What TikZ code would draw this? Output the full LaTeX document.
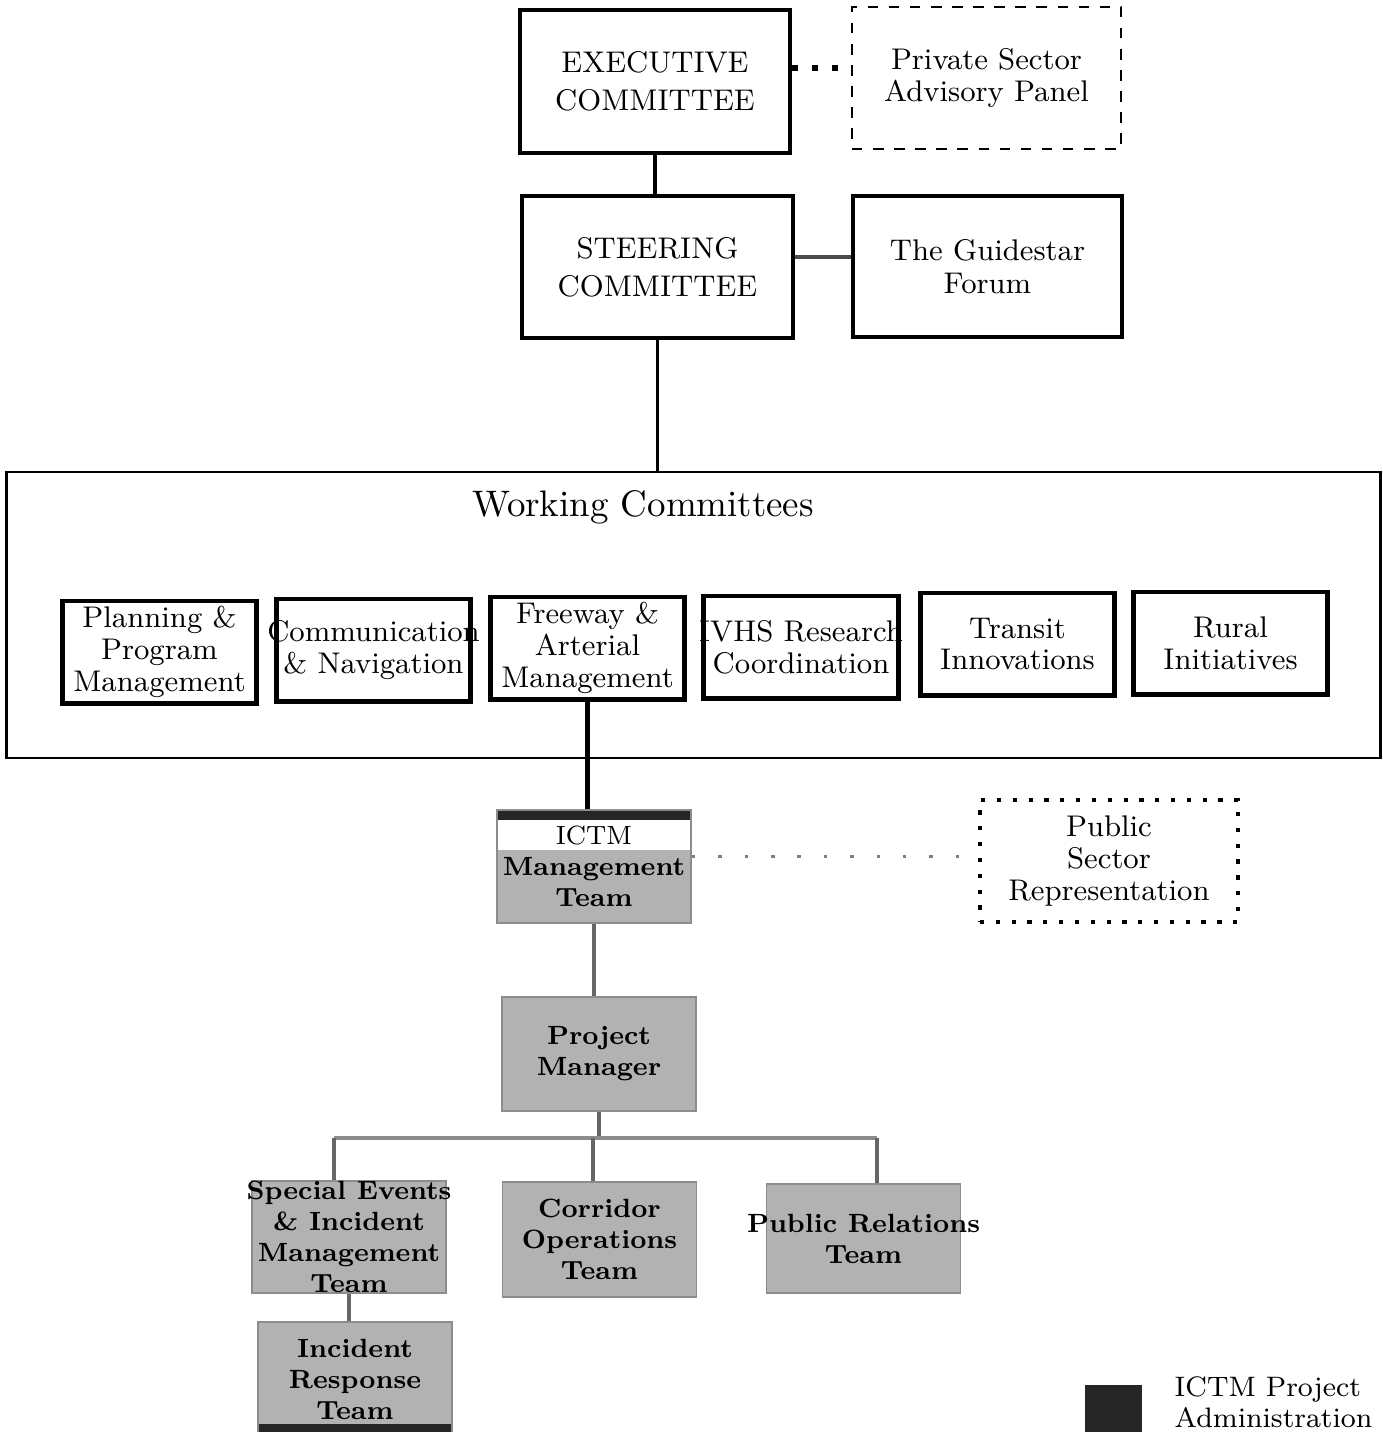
\documentclass[tikz,border=0pt]{standalone}
\usetikzlibrary{positioning}
\begin{document}
\begin{tikzpicture}[
		x=0.01cm, y=-0.01cm,
		box/.style		={ draw, line width=0.9pt, align=center, inner sep=0pt,
			font=\fontsize{8.5}{10.8}\selectfont
		},
		sidebox/.style	={ box, font=\fontsize{8.5}{9.2}\selectfont },
		dashbox/.style	={ sidebox, line width=0.6pt, dash pattern=on 3pt off 3pt },
		dotbox/.style	={ sidebox, line width=1.2pt, dash pattern=on 1.2pt off 3.3pt },
		wcbox/.style	={ draw, line width=1.4pt, align=center,
			inner xsep=-0.12cm, inner ysep=0pt,
			minimum width=1.94cm, minimum height=1.02cm,
			font=\fontsize{8.5}{9}\selectfont
		},
		team/.style		={ draw=black!45, fill=black!30, line width=0.5pt,
			align=center, inner xsep=-0.2cm, inner ysep=0pt, minimum width=1.94cm,
			font=\fontsize{7.5}{8.8}\selectfont\bfseries
		},
		link/.style		={ line width=1pt },
		bus/.style		={ line width=0.9pt, draw=black!45 },
		admin/.style	={ fill=black!85 },
	]
	\useasboundingbox (0,0) rectangle (1383,1432);

	\def\mylist{	plan/159.5/652/{Planning \&\\Program\\Management},
					comm/373.5/650/{Communication\\\& Navigation},
					fam/587.5/648/{Freeway \&\\Arterial\\Management},
					ivhs/801/647/{IVHS Research\\Coordination},
					tran/1017.5/644/{Transit\\Innovations},
					rural/1230.5/643/{Rural\\Initiatives}}

	% declare committee nodes
	\node (exec) [box, minimum width=2.70cm, minimum height=1.43cm] at (655,81.5)
			{EXECUTIVE\\COMMITTEE};
	\node (priv) [dashbox, minimum width=2.69cm, minimum height=1.42cm] at (986.5,78)
			{Private Sector\\Advisory Panel};
	\node (steer) [box, minimum width=2.71cm, minimum height=1.42cm] at (657.5,267)
			{STEERING\\COMMITTEE};
	\node (guide) [sidebox, minimum width=2.69cm, minimum height=1.41cm] at (987.5,266.5)
			{The Guidestar\\Forum};

	% draw working committees
	\node (wc) [draw, line width=0.7pt, minimum width=13.73cm, minimum height=2.86cm]
			at (693.5,615) {};
	\node (wctitle) [font=\fontsize{10.5}{12}\selectfont] at (643,507) {Working Committees};
	\foreach \name/\px/\py/\txt in \mylist {
			\node (\name) [wcbox] at (\px,\py) {\txt};
		}

	% draw ICTM teams
	\node (ictm) [team, minimum height=1.13cm,
			path picture={
				\fill[white] (path picture bounding box.north west)
						rectangle ([yshift=-4mm]path picture bounding box.north east);
				\fill[admin] (path picture bounding box.north west)
						rectangle ([yshift=-1mm]path picture bounding box.north east);
			}] at (594,866.5)
			{\mdseries ICTM\\Management\\Team};
	\node (pub) [dotbox, minimum width=2.58cm, minimum height=1.22cm] at (1109,861)
			{Public\\Sector\\Representation};
	\node (pm) [team, minimum height=1.14cm] at (599,1054) {Project\\Manager};
	\node (spec) [team, minimum height=1.10cm] at (349,1237)
			{Special Events\\\& Incident\\Management\\Team};
	\node (corr) [team, minimum height=1.15cm] at (599.5,1239.5)
			{Corridor\\Operations\\Team};
	\node (prt) [team, minimum height=1.09cm] at (863.5,1238.5)
			{Public Relations\\Team};
	\node (irt) [team, minimum height=1.14cm,
			path picture={
				\fill[admin] ([yshift=1.2mm]path picture bounding box.south west)
						rectangle (path picture bounding box.south east);
			}] at (355,1379)
			{Incident\\Response\\Team};

	% draw connectors
	\draw [line width=1.7pt, dash pattern=on 1.7pt off 4pt]
			([yshift=1.35mm]exec.east) -- ([yshift=1.35mm]exec.east -| priv.west);
	\draw [link, draw=black!70] ([yshift=1mm]steer.east) -- ([yshift=1mm]steer.east -| guide.west);
	\draw [link] (exec.south) -- (exec.south |- steer.north);
	\draw [link] (steer.south) -- (steer.south |- wc.north);
	\draw [line width=1.3pt] (fam.south) -- (fam.south |- ictm.north);
	\draw [line width=1pt, draw=black!50, dash pattern=on 1pt off 6.5pt]
			([yshift=1mm]ictm.east) -- ([yshift=1mm]ictm.east -| pub.west);
	\draw [link, draw=black!60] (ictm.south) -- (ictm.south |- pm.north);

	\coordinate (split) at (593,1138);
	\draw [link, draw=black!60] (pm.south) -- (pm.south |- split);
	\draw [bus] ([xshift=-1.5mm]spec.north |- split) -- ([xshift=1.35mm]prt.north |- split);
	\draw [link, draw=black!60] ([xshift=-1.5mm]spec.north |- split) -- ([xshift=-1.5mm]spec.north);
	\draw [link, draw=black!60] (split) -- (split |- corr.north);
	\draw [link, draw=black!60] ([xshift=1.35mm]prt.north |- split) -- ([xshift=1.35mm]prt.north);
	\draw [link, draw=black!60] (spec.south) -- (spec.south |- irt.north);

	% draw legend
	\node (key) [admin, minimum width=0.57cm, minimum height=0.5cm, inner sep=0pt]
			at (1113.5,1410) {};
	\node (keytxt) [anchor=south west, align=left, inner sep=0pt,
			font=\fontsize{8}{8.8}\selectfont] at (1174,1428)
			{ICTM Project\\Administration};

\end{tikzpicture}
\end{document}
